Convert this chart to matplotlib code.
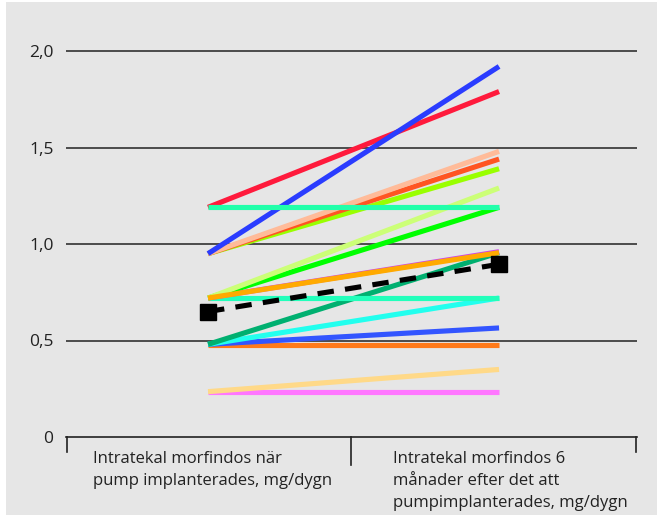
import matplotlib
matplotlib.use("Agg")
import matplotlib.pyplot as plt
from matplotlib.lines import Line2D
from matplotlib.patches import Rectangle

# Data: morphine dose (mg/dygn) at implant and after 6 months, per patient
start_vals = [0.235, 0.235, 0.475, 0.48, 0.48, 0.48, 0.72, 0.72, 0.72, 0.72, 0.72,
              0.95, 0.95, 0.95, 0.95, 1.19, 1.19]
end_vals   = [0.235, 0.35, 0.475, 0.565, 0.72, 0.955, 0.72, 0.96, 1.19, 1.29, 0.955,
              1.39, 1.44, 1.48, 1.92, 1.79, 1.19]
colors     = ["#ff77ff", "#ffd988", "#ff7a1a", "#3355ff", "#22ffee", "#00b070", "#22ffbb",
              "#cc44ee", "#00ff00", "#ccff77", "#ffaa00",
              "#99ff00", "#ff5522", "#ffbb99", "#2a3cff", "#ff1a3c", "#22ffaa"]
# draw order tweak: red before blue
order = [0, 1, 2, 3, 4, 5, 6, 7, 8, 9, 10, 11, 12, 13, 15, 14, 16]
mean_vals = [0.65, 0.895]

ytick_vals = [0, 0.5, 1.0, 1.5, 2.0]
ytick_labels = ["0", "0,5", "1,0", "1,5", "2,0"]
cat_labels = ["Intratekal morfindos när\npump implanterades, mg/dygn",
              "Intratekal morfindos 6\nmånader efter det att\npumpimplanterades, mg/dygn"]

plt.rcParams['font.family'] = ['Open Sans', 'DejaVu Sans']
bg = "#e6e6e6"
fig = plt.figure(figsize=(6.59, 5.15), dpi=100, facecolor="white")
fig.patches.append(Rectangle((6/659, 0), 651/659, 513/515, transform=fig.transFigure,
                             facecolor=bg, edgecolor="none", zorder=-10))
ax = fig.add_axes([66/659, 78/515, 571/659, 424.6/515])
ax.set_facecolor("none")
ax.set_xlim(-0.488, 1.474)
ax.set_ylim(0, 2.2)

for y in ytick_vals[1:]:
    ax.axhline(y, color="#222222", lw=1.1, zorder=1)

for i in order:
    ax.plot([0, 1], [start_vals[i], end_vals[i]], color=colors[i], lw=3.7,
            solid_capstyle="butt", zorder=2)

ax.plot([0, 1], mean_vals, color="black", lw=3.7, ls=(0, (3.2, 2.2)), zorder=3)
ax.plot([0, 1], mean_vals, ls="none", marker="s", ms=11.5, color="black", zorder=4)

for s in ax.spines.values():
    s.set_visible(False)
ax.set_xticks([])
ax.set_yticks(ytick_vals)
ax.set_yticklabels(ytick_labels, fontsize=12.5, color="#222222")
ax.tick_params(axis="y", length=0, pad=9)

# x axis baseline with bracket ticks
ax.add_line(Line2D([-0.488, 1.474], [0, 0], color="#222222", lw=1.2, transform=ax.transData, clip_on=False))
for x, ln in [(-0.486, 15), (0.491, 28), (1.472, 15)]:
    ax.add_line(Line2D([x, x], [0, -ln / 193.0], color="#222222", lw=1.2,
                       transform=ax.transData, clip_on=False))

fig.text(93/659, 1 - 451/515, cat_labels[0], fontsize=12, va="top", ha="left",
         color="#222222", linespacing=1.52)
fig.text(393/659, 1 - 451/515, cat_labels[1], fontsize=12, va="top", ha="left",
         color="#222222", linespacing=1.52)

fig.savefig("out.png", dpi=100, facecolor="white")
